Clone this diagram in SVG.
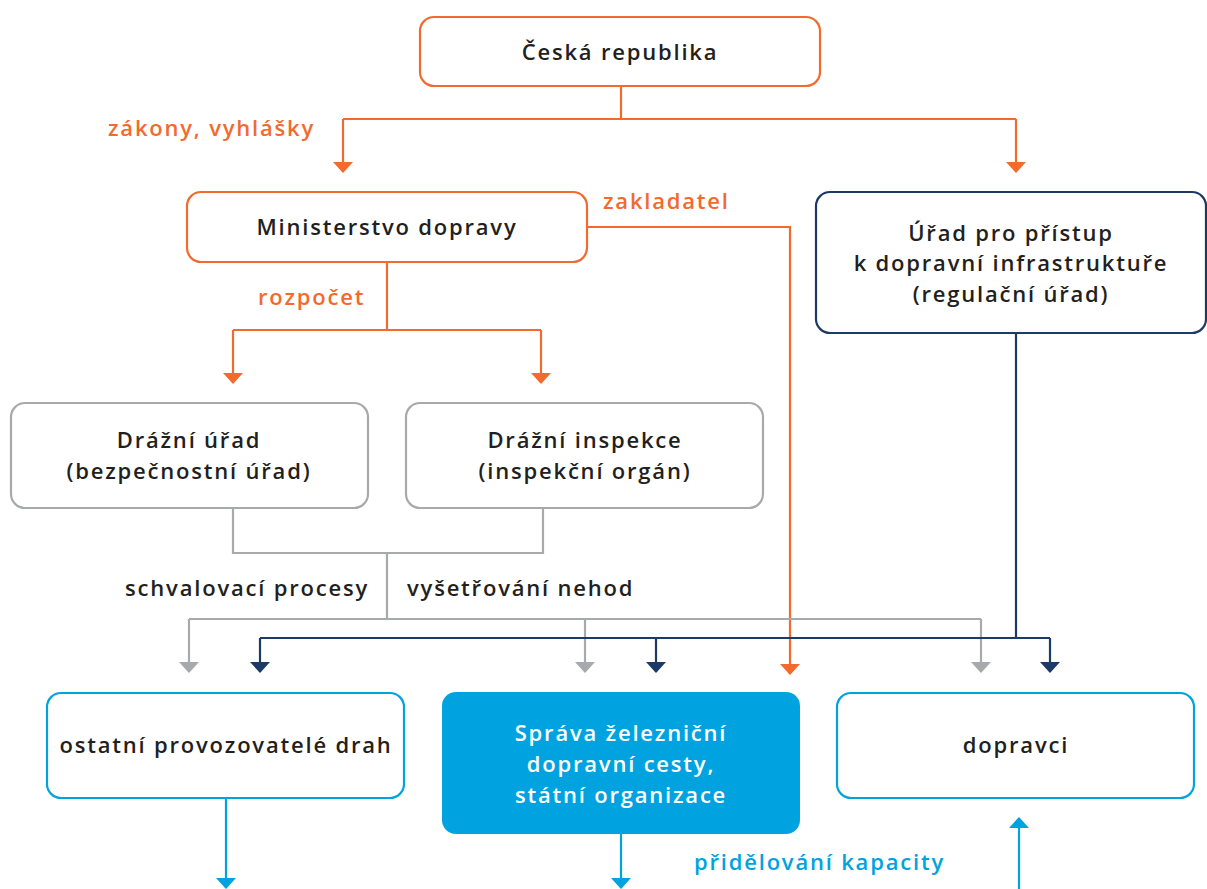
<svg xmlns="http://www.w3.org/2000/svg" width="1207" height="889" viewBox="0 0 1207 889">
<defs>
<style>
text{font-family:"Open Sans","Noto Sans","DejaVu Sans",sans-serif;font-weight:600;font-size:22px;letter-spacing:1.8px;fill:#231f20}
.c{text-anchor:middle}
.o{fill:#f26a2e}
.b{fill:#00a3e0}
.w{fill:#ffffff}
.bx{fill:#fff;stroke-width:2.2}
.so{stroke:#f26a2e}.sn{stroke:#1b3a66}.sg{stroke:#a7a9ac}.sb{stroke:#00a3e0}
.ln{fill:none;stroke-width:2.2}
</style>
<marker id="ao" viewBox="0 0 11 20" refX="10" refY="10" markerWidth="11" markerHeight="20" markerUnits="userSpaceOnUse" orient="auto"><path d="M0,0 L11,10 L0,20 z" fill="#f26a2e"/></marker>
<marker id="an" viewBox="0 0 11 20" refX="10" refY="10" markerWidth="11" markerHeight="20" markerUnits="userSpaceOnUse" orient="auto"><path d="M0,0 L11,10 L0,20 z" fill="#1b3a66"/></marker>
<marker id="ag" viewBox="0 0 11 20" refX="10" refY="10" markerWidth="11" markerHeight="20" markerUnits="userSpaceOnUse" orient="auto"><path d="M0,0 L11,10 L0,20 z" fill="#a7a9ac"/></marker>
<marker id="ab" viewBox="0 0 11 20" refX="10" refY="10" markerWidth="11" markerHeight="20" markerUnits="userSpaceOnUse" orient="auto"><path d="M0,0 L11,10 L0,20 z" fill="#00a3e0"/></marker>
</defs>
<rect width="1207" height="889" fill="#fff"/>
<g id="connectors">
<path class="ln so" d="M621,86 V119 M343,119 H1016"/>
<path class="ln so" d="M343,119 V172" marker-end="url(#ao)"/>
<path class="ln so" d="M1016,119 V172" marker-end="url(#ao)"/>
<path class="ln so" d="M587,227 H790 V674" marker-end="url(#ao)"/>
<path class="ln so" d="M387,262 V330 M233,330 H541"/>
<path class="ln so" d="M233,330 V383" marker-end="url(#ao)"/>
<path class="ln so" d="M541,330 V383" marker-end="url(#ao)"/>
<path class="ln sg" d="M233,508 V553 H543 V508 M387,553 V619 M189,619 H981"/>
<path class="ln sg" d="M189,619 V672" marker-end="url(#ag)"/>
<path class="ln sg" d="M585,619 V672" marker-end="url(#ag)"/>
<path class="ln sg" d="M981,619 V672" marker-end="url(#ag)"/>
<path class="ln sn" d="M1016,333 V638 M260,638 H1050"/>
<path class="ln sn" d="M260,638 V672" marker-end="url(#an)"/>
<path class="ln sn" d="M656,638 V672" marker-end="url(#an)"/>
<path class="ln sn" d="M1050,638 V672" marker-end="url(#an)"/>
<path class="ln sb" d="M226,798 V888" marker-end="url(#ab)"/>
<path class="ln sb" d="M621,834 V888" marker-end="url(#ab)"/>
<path class="ln sb" d="M1019,889 V818" marker-end="url(#ab)"/>
</g>
<g id="labels">
<text class="o" x="108" y="136">zákony, vyhlášky</text>
<text class="o" x="603" y="209">zakladatel</text>
<text class="o" x="258" y="305">rozpočet</text>
<text x="369" y="596" text-anchor="end">schvalovací procesy</text>
<text x="407" y="596">vyšetřování nehod</text>
<text class="b" x="694" y="870">přidělování kapacity</text>
</g>
<g id="n-cr"><rect class="bx so" x="420" y="17" width="400" height="69" rx="14"/><text class="c" x="620" y="60">Česká republika</text></g>
<g id="n-md"><rect class="bx so" x="187" y="192" width="400" height="70" rx="14"/><text class="c" x="387" y="235">Ministerstvo dopravy</text></g>
<g id="n-urad"><rect class="bx sn" x="816" y="192" width="390" height="141" rx="14"/><text class="c" x="1011" y="241">Úřad pro přístup</text><text class="c" x="1011" y="271">k dopravní infrastruktuře</text><text class="c" x="1011" y="302">(regulační úřad)</text></g>
<g id="n-du"><rect class="bx sg" x="11" y="403" width="357" height="105" rx="14"/><text class="c" x="189" y="448">Drážní úřad</text><text class="c" x="189" y="479">(bezpečnostní úřad)</text></g>
<g id="n-di"><rect class="bx sg" x="406" y="403" width="357" height="105" rx="14"/><text class="c" x="585" y="448">Drážní inspekce</text><text class="c" x="585" y="479">(inspekční orgán)</text></g>
<g id="n-opd"><rect class="bx sb" x="47" y="693" width="357" height="105" rx="14"/><text class="c" x="226" y="753">ostatní provozovatelé drah</text></g>
<g id="n-szdc"><rect x="442" y="692" width="358" height="142" rx="14" fill="#00a3e0"/><text class="c w" x="621" y="741">Správa železniční</text><text class="c w" x="621" y="772">dopravní cesty,</text><text class="c w" x="621" y="803">státní organizace</text></g>
<g id="n-dop"><rect class="bx sb" x="837" y="693" width="357" height="105" rx="14"/><text class="c" x="1016" y="753">dopravci</text></g>
</svg>
